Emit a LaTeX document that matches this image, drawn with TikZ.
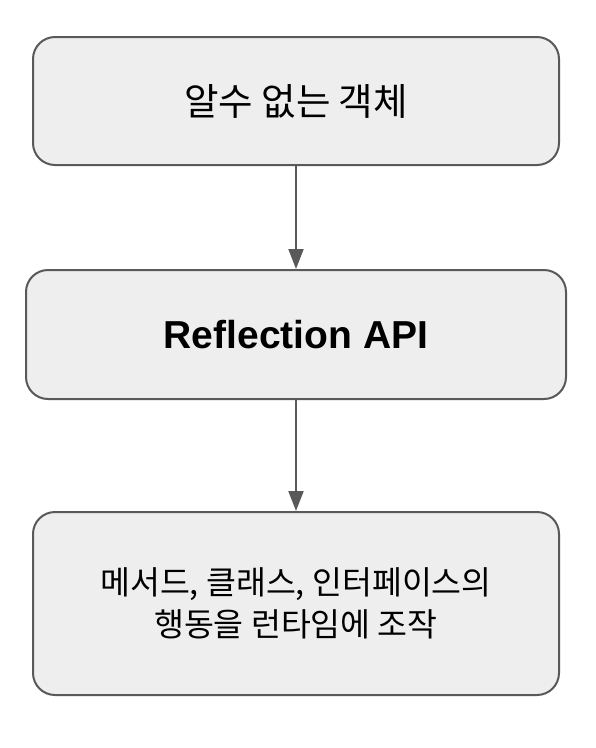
\documentclass[tikz,border=0pt]{standalone}
\usepackage{fontspec}
\setmainfont{Liberation Sans}
\newfontfamily\krfont{Noto Sans CJK KR}
\usetikzlibrary{arrows.meta,positioning}
\definecolor{boxfill}{HTML}{EEEEEE}
\definecolor{edgegray}{HTML}{595959}

\begin{document}
\begin{tikzpicture}[x=1pt,y=-1pt,>={Triangle[length=20pt,width=15pt]},
  stagebox/.style={draw=edgegray,line width=2pt,fill=boxfill,rounded corners=22pt,align=center,inner sep=0pt}]
  \useasboundingbox (0,0) rectangle (596,748);
  \node[stagebox,minimum width=526pt,minimum height=128pt,font=\krfont\fontsize{37.5}{44}\selectfont] (obj) at (296,101) {알수 없는 객체};
  \node[stagebox,minimum width=540pt,minimum height=129pt,font=\bfseries\fontsize{39}{46}\selectfont] (refl) at (296,334.5) {Reflection API};
  \node[stagebox,minimum width=526pt,minimum height=183pt,font=\krfont\fontsize{32.5}{42}\selectfont] (ops) at (296,603.5) {메서드, 클래스, 인터페이스의\\행동을 런타임에 조작};

  \draw[->,edgegray,line width=2pt] (obj) -- (refl);
  \draw[->,edgegray,line width=2pt] (refl) -- (ops);
\end{tikzpicture}
\end{document}
